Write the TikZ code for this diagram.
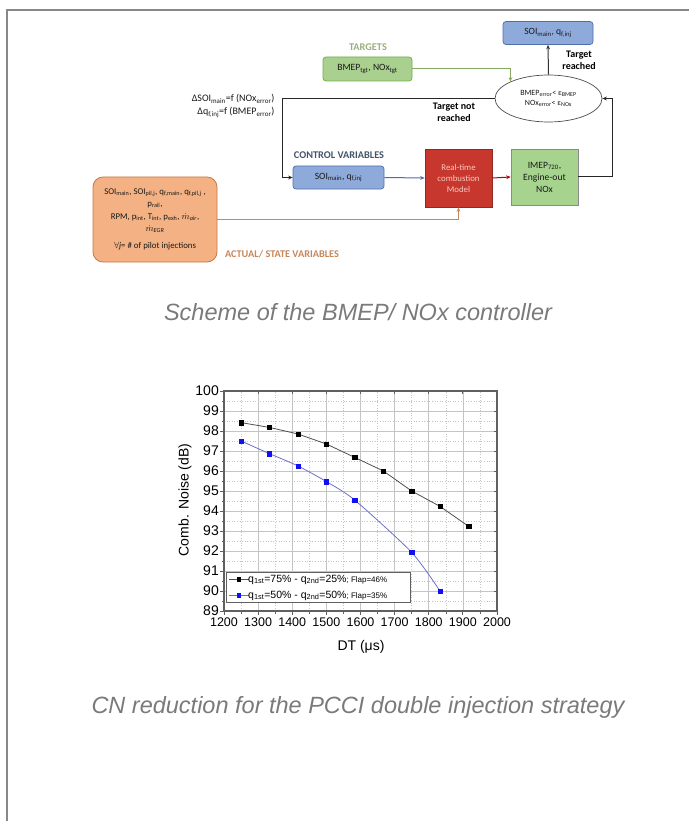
\documentclass[tikz,border=0pt]{standalone}
\usepackage{fontspec}
\setmainfont{Liberation Sans}
\newfontfamily\carl{Carlito}
\usetikzlibrary{arrows.meta,shapes.geometric,calc,plotmarks}
\definecolor{framegray}{HTML}{888888}
\definecolor{capgray}{HTML}{7A7A7A}
\definecolor{bluefill}{HTML}{8EAADB}
\definecolor{blueedge}{HTML}{4F6FA8}
\definecolor{blueline}{HTML}{5567B0}
\definecolor{tgtfill}{HTML}{A9D08E}
\definecolor{tgtedge}{HTML}{70AD47}
\definecolor{tgtline}{HTML}{86A862}
\definecolor{tgttext}{HTML}{9AAE7C}
\definecolor{redfill}{HTML}{C8372D}
\definecolor{rededge}{HTML}{8E2A22}
\definecolor{redtext}{HTML}{F6C9C2}
\definecolor{grnfill}{HTML}{A6D48F}
\definecolor{grnedge}{HTML}{8A8A8A}
\definecolor{orfill}{HTML}{F4B183}
\definecolor{oredge}{HTML}{C47A45}
\definecolor{orline}{HTML}{C08B63}
\definecolor{ortext}{HTML}{C5875C}
\definecolor{ctltext}{HTML}{44546A}
\definecolor{gridgray}{HTML}{C4C4C4}
\definecolor{axisgray}{HTML}{606060}
\definecolor{ser1}{HTML}{505050}
\definecolor{ser2}{HTML}{7070C8}
\definecolor{mk2}{HTML}{1010F0}
\tikzset{
  dtext/.style={font=\carl\fontsize{9.6}{11}\selectfont, align=center, text=black!90},
  grplbl/.style={font=\carl\bfseries\fontsize{10.3}{11}\selectfont},
  bluebox/.style={dtext, draw=blueedge, fill=bluefill, rounded corners=3pt, line width=0.7pt, minimum width=90pt, minimum height=23pt},
  tgtbox/.style={dtext, draw=tgtedge, fill=tgtfill, rounded corners=3pt, line width=0.7pt, minimum width=89pt, minimum height=24pt},
  redbox/.style={dtext, font=\carl\fontsize{8.8}{11}\selectfont, text=redtext, draw=rededge, fill=redfill, line width=0.7pt, minimum width=67pt, minimum height=58pt},
  grnbox/.style={dtext, font=\carl\fontsize{9.6}{12}\selectfont, draw=grnedge, fill=grnfill, line width=0.7pt, minimum width=67pt, minimum height=56pt},
  orbox/.style={dtext, draw=oredge, fill=orfill, rounded corners=10pt, line width=0.8pt, minimum width=124pt, minimum height=85pt},
  arr/.style={-{Stealth[length=4.5pt,width=3.8pt]}, line width=1pt},
  caption/.style={font=\fontsize{23.5}{26}\selectfont\itshape, text=capgray},
  ticklbl/.style={font=\fontsize{14}{16}\selectfont},
  xticklbl/.style={font=\fontsize{12.5}{14}\selectfont},
  majgrid/.style={draw=gridgray, line width=0.6pt},
  mingrid/.style={draw=gridgray, line width=0.6pt, dotted},
}
\begin{document}
\begin{tikzpicture}[x=1pt,y=-1pt]
\useasboundingbox (0,0) rectangle (689,821);
% outer frame
\draw[framegray, line width=2pt] (6.5,821) -- (6.5,10.5) -- (689,10.5);

% ===== Scheme =====
\node[grplbl, text=tgttext] (tlab) at (368,47) {TARGETS};
\node[tgtbox] (tgt) at (367.5,69) {BMEP\textsubscript{tgt}, NOx\textsubscript{tgt}};
\node[bluebox] (soitop) at (548,33) {SOI\textsubscript{main}, q\textsubscript{f,inj}};
\node[dtext, draw=black!70, fill=white, ellipse, line width=0.7pt, minimum width=107pt, minimum height=47pt, inner sep=0pt, font=\carl\fontsize{8}{10}\selectfont] (ell) at (548.5,98.5) {BMEP\textsubscript{error}< ε\textsubscript{BMEP}\\NOx\textsubscript{error}< ε\textsubscript{NOx}};
\node[grplbl, align=center, font=\carl\bfseries\fontsize{10}{12}\selectfont] (reached) at (579,60.5) {Target\\reached};
\node[grplbl, align=center, font=\carl\bfseries\fontsize{10}{12}\selectfont] (notreached) at (454,112.5) {Target not\\reached};
\node[dtext, align=right, anchor=east, font=\carl\fontsize{10}{13}\selectfont] (delta) at (278,106) {ΔSOI\textsubscript{main}=f (NOx\textsubscript{error})\\Δq\textsubscript{f,inj}=f (BMEP\textsubscript{error})};
\node[grplbl, text=ctltext] (ctl) at (339,155.5) {CONTROL VARIABLES};
\node[bluebox, minimum width=91pt] (soilow) at (338.5,177.5) {SOI\textsubscript{main}, q\textsubscript{f,inj}};
\node[redbox] (model) at (458.5,178) {Real-time\\combustion\\Model};
\node[grnbox] (imep) at (544.5,177) {IMEP\textsubscript{720},\\Engine-out\\NOx};
\node[orbox, font=\carl\fontsize{8.8}{12.3}\selectfont] (state) at (155,219.5) {SOI\textsubscript{main}, SOI\textsubscript{pil,j}, q\textsubscript{f,main}, q\textsubscript{f,pil,j} ,\\p\textsubscript{rail},\\RPM, p\textsubscript{int}, T\textsubscript{int}, p\textsubscript{exh}, $\dot{m}$\textsubscript{\textit{air}},\\$\dot{m}$\textsubscript{\textit{EGR}}\\[5pt]$\forall$\textit{j}= \# of pilot injections};
\node[grplbl, text=ortext] (act) at (282,254.5) {ACTUAL/ STATE VARIABLES};

\coordinate (fbx) at (282.5,0);
\coordinate (rtx) at (612,0);
\draw[arr, tgtline] (tgt.east) -| (ell.north west);
\draw[arr, black!80] (ell.north) -- (soitop.south);
\draw[arr, black!85] (ell.west) -- (ell.west -| fbx) |- (soilow.west);
\draw[arr, blueline] (soilow.east) -- (model.west);
\draw[arr, red!75!black] (model.east) -- (imep.west);
\draw[arr, black!85] (imep.east) -- (imep.east -| rtx) |- (ell.east);
\draw[arr, orline, line width=1.3pt] (state.east) -| (model.south);

\node[caption] (cap1) at (358,312) {Scheme of the BMEP/ NOx controller};

% ===== Chart =====
\begin{scope}[shift={(224,611)}]
\begin{scope}[x=0.34125pt, y=20pt]
  % grid
  \foreach \v in {1250,1350,...,1950} \draw[mingrid] (\v-1200,0) -- (\v-1200,11);
  \foreach \v in {1300,1400,...,1900} \draw[majgrid] (\v-1200,0) -- (\v-1200,11);
  \foreach \v in {0.5,1.5,...,10.5} \draw[mingrid] (0,\v) -- (800,\v);
  \foreach \v in {1,...,10} \draw[majgrid] (0,\v) -- (800,\v);
  % ticks
  \foreach \v in {0,...,11} {
    \draw[axisgray, line width=0.8pt] (0,\v) -- ++(-4pt,0);
    \draw[axisgray, line width=0.8pt] (800,\v) -- ++(-3pt,0);
    \node[ticklbl, anchor=east, inner sep=0pt] (yl\v) at ([xshift=-5pt]0,\v) {\pgfmathparse{int(89+\v)}\pgfmathresult};
  }
  \foreach \v in {0.5,1.5,...,10.5} \draw[axisgray, line width=0.6pt] (0,\v) -- ++(-2.5pt,0);
  \foreach \v in {0,100,...,800} {
    \draw[axisgray, line width=0.8pt] (\v,0) -- ++(0,-4pt);
    \draw[axisgray, line width=0.8pt] (\v,11) -- ++(0,-3pt);
    \node[xticklbl, anchor=north, inner sep=0pt] (xl\v) at ([yshift=-6.5pt]\v,0) {\pgfmathparse{int(1200+\v)}\pgfmathresult};
  }
  \foreach \v in {50,150,...,750} \draw[axisgray, line width=0.6pt] (\v,0) -- ++(0,-2.5pt);
  % frame
  \draw[axisgray, line width=1.1pt] (0,0) rectangle (800,11);
  % series 1
  \draw[ser1, line width=0.8pt] plot coordinates {(50,9.42) (133,9.18) (217,8.85) (300,8.35) (383,7.68) (467,7.0) (550,6.0) (633,5.23) (717,4.23)};
  \draw[black] plot[only marks, mark=square*, mark size=2.1pt] coordinates {(50,9.42) (133,9.18) (217,8.85) (300,8.35) (383,7.68) (467,7.0) (550,6.0) (633,5.23) (717,4.23)};
  % series 2
  \draw[ser2, line width=0.8pt] plot[smooth, tension=0.4] coordinates {(50,8.5) (133,7.87) (217,7.25) (300,6.47) (383,5.55) (550,2.93) (633,1.0)};
  \draw[mk2] plot[only marks, mark=square*, mark size=2.1pt] coordinates {(50,8.5) (133,7.87) (217,7.25) (300,6.47) (383,5.55) (550,2.93) (633,1.0)};
\end{scope}
\end{scope}
% legend
\node[draw=axisgray, fill=white, line width=0.6pt, minimum width=184pt, minimum height=30pt, inner sep=0pt] (leg) at (318,587) {};
\coordinate (l1a) at (229,579.5);
\coordinate (l1b) at (249,579.5);
\coordinate (l2a) at (229,595.5);
\coordinate (l2b) at (249,595.5);
\draw[ser1, line width=0.8pt] (l1a) -- (l1b);
\draw[ser2, line width=0.8pt] (l2a) -- (l2b);
\fill[black] ($(l1a)!0.5!(l1b)+(-2.1,-2.1)$) rectangle ++(4.2,4.2);
\fill[mk2] ($(l2a)!0.5!(l2b)+(-2.1,-2.1)$) rectangle ++(4.2,4.2);
\node[anchor=west, inner sep=0pt, font=\fontsize{10.5}{12}\selectfont] (lt1) at ([xshift=-1pt]l1b) {q\textsubscript{1st}=75\% - q\textsubscript{2nd}=25\%{\fontsize{8}{9}\selectfont; Flap=46\%}};
\node[anchor=west, inner sep=0pt, font=\fontsize{10.5}{12}\selectfont] (lt2) at ([xshift=-1pt]l2b) {q\textsubscript{1st}=50\% - q\textsubscript{2nd}=50\%{\fontsize{8}{9}\selectfont; Flap=35\%}};
% axis labels
\node[rotate=90, font=\fontsize{14}{16}\selectfont] (ylab) at (185,500) {Comb. Noise (dB)};
\node[font=\fontsize{14}{16}\selectfont] (xlab) at (361,647) {DT (μs)};

\node[caption] (cap2) at (358,707) {CN reduction for the PCCI double injection strategy};
\end{tikzpicture}
\end{document}
